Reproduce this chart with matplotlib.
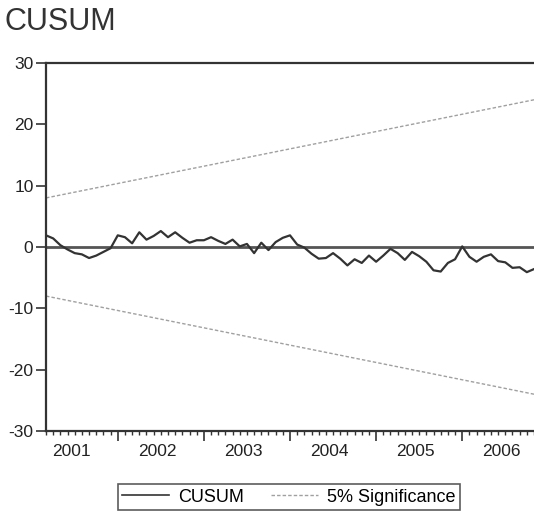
import numpy as np
import matplotlib.pyplot as plt

# monthly CUSUM values, first observation Mar 2001
cusum = [1.9, 1.4, 0.3, -0.4, -1.0, -1.2, -1.8, -1.4, -0.8, -0.2,
         1.9, 1.6, 0.6, 2.4, 1.2, 1.8, 2.6, 1.6, 2.4, 1.5,
         0.7, 1.1, 1.1, 1.6, 1.0, 0.5, 1.2, 0.1, 0.5, -1.0,
         0.7, -0.5, 0.8, 1.5, 1.9, 0.4, -0.1, -1.1, -1.9, -1.8,
         -1.0, -1.9, -3.0, -2.0, -2.6, -1.4, -2.4, -1.4, -0.3, -1.0,
         -2.1, -0.8, -1.5, -2.4, -3.8, -4.0, -2.6, -2.0, 0.1, -1.6,
         -2.4, -1.6, -1.2, -2.3, -2.5, -3.4, -3.3, -4.1, -3.6]
sig_upper = [8.0, 24.0]
sig_lower = [-8.0, -24.0]
years = ["2001", "2002", "2003", "2004", "2005", "2006"]
first_jan = -2  # Jan 2001 relative to first observation
yticks = [-30, -20, -10, 0, 10, 20, 30]

n = len(cusum)
t = np.arange(n)
sig_t = [0, n - 1]

plt.rcParams['font.family'] = ['Liberation Sans', 'DejaVu Sans']

fig = plt.figure(figsize=(5.34, 5.14), dpi=100)
ax = fig.add_axes([46 / 534, 83 / 514, 1 - 46 / 534, 368 / 514])

sig_style = dict(color='#a0a0a0', lw=1.0, linestyle=(0, (2.5, 1.5)))

ax.axhline(0, color='#555555', lw=2.0, zorder=1)
ax.plot(sig_t, sig_upper, **sig_style)
ax.plot(sig_t, sig_lower, **sig_style)
ax.plot(t, cusum, color='#333333', lw=1.6, label='CUSUM', zorder=3)

ax.set_xlim(0, n - 1)
ax.set_ylim(-30, 30)
ax.set_yticks(yticks)
ax.set_yticklabels([str(v) for v in yticks], fontsize=12.5, color='#222222')

# year boundaries as major ticks, months as minor ticks
majors = [first_jan + 12 * k for k in range(len(years)) if 0 <= first_jan + 12 * k <= n - 1]
ax.set_xticks(majors)
ax.set_xticklabels([])
ax.set_xticks([m for m in range(n) if m not in majors], minor=True)
for k, yr in enumerate(years):
    ax.text(first_jan + 12 * k + 5.5, -0.035, yr, transform=ax.get_xaxis_transform(),
            ha='center', va='top', fontsize=12.5, color='#222222')

ax.tick_params(axis='x', which='major', length=7, width=1.2, color='#333333')
ax.tick_params(axis='x', which='minor', length=3, width=1.0, color='#333333')
ax.tick_params(axis='y', length=7, width=1.2, color='#333333', pad=2)
for s in ['left', 'top', 'bottom']:
    ax.spines[s].set_linewidth(1.6)
    ax.spines[s].set_color('#333333')
ax.spines['right'].set_visible(False)

fig.text(5 / 534, 1 - 22 / 514, 'CUSUM', fontsize=22, va='center', ha='left', color='#333333')

h1, = ax.plot([], [], color='#333333', lw=1.2)
h2, = ax.plot([], [], **sig_style)
leg = fig.legend([h1, h2], ['CUSUM', '5% Significance'], loc='center',
                 bbox_to_anchor=(289 / 534, 17 / 514), ncol=2, fontsize=13,
                 frameon=True, fancybox=False, edgecolor='#333333',
                 handlelength=2.6, handletextpad=0.5, columnspacing=1.5,
                 borderpad=0.25)
leg.get_frame().set_linewidth(1.2)

fig.savefig('out.png', dpi=100)
